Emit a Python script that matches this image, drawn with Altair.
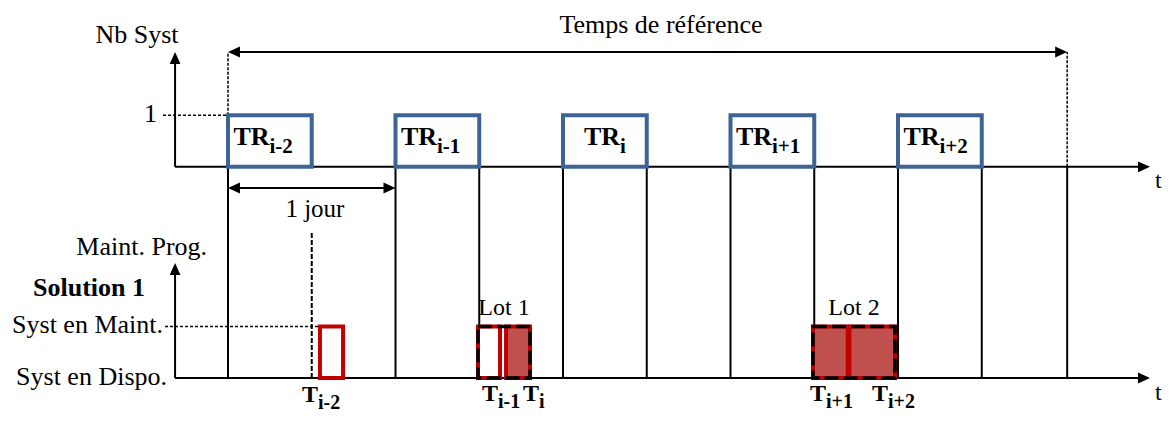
import altair as alt
import pandas as pd

# ---------------- data (time in days, level in number of systems) ----------------
tr_index = ["i-2", "i-1", "i", "i+1", "i+2"]      # reference periods TR
tr_start = [0.0, 1.0, 2.0, 3.0, 4.0]               # start of each TR (days)
tr_duration = 0.5                                  # length of a TR (days)
tr_level = 1                                       # Nb Syst during a TR
ref_start = 0.0                                    # "Temps de référence"
ref_end = 5.01

task_index = ["i-2", "i-1", "i", "i+1", "i+2"]     # planned maintenance tasks
task_start = [0.549, 1.4925, 1.66, 3.4925, 3.71]
task_end = [0.687, 1.624, 1.803, 3.70, 3.982]
task_shaded = [False, False, True, True, True]
task_level = 1

lot_names = ["Lot 1", "Lot 2"]
lot_start = [1.4925, 3.4925]
lot_end = [1.803, 3.982]

# ---------------- layout ----------------
FONT = "Liberation Serif"
BLUE = "#3E6496"
RED = "#C00000"
RED_FILL = "#C0504D"
TOP0 = 4.1            # baseline of the upper timeline (in level units)
AX_X = -0.316         # position of both vertical axes
AX_END = 5.5045       # tip of both time axes
TOP_TIP = 6.33
BOT_TIP = 2.233
DAY_Y = 3.689
X_DOM = [-1.3134, 5.594]
Y_DOM = [-0.7184, 7.1845]

xs = alt.Scale(domain=X_DOM, nice=False, zero=False)
ys = alt.Scale(domain=Y_DOM, nice=False, zero=False)


def X(f="x"):
    return alt.X(f"{f}:Q", scale=xs, axis=None)


def Y(f="y"):
    return alt.Y(f"{f}:Q", scale=ys, axis=None)


def rules(rows, **kw):
    df = pd.DataFrame(rows, columns=["x", "x2", "y", "y2"])
    return alt.Chart(df).mark_rule(color="black", **kw).encode(
        x=X("x"), x2="x2:Q", y=Y("y"), y2="y2:Q")


def texts(rows, align, size, weight="normal", dx=0, dy=0):
    df = pd.DataFrame(rows, columns=["x", "y", "text"])
    return alt.Chart(df).mark_text(
        align=align, baseline="alphabetic", font=FONT, fontSize=size,
        fontWeight=weight, dx=dx, dy=dy, color="black").encode(
        x=X(), y=Y(), text="text:N")


# axes and arrows
hx, hy = 0.03, 0.1
axis_lines = rules([
    (AX_X, AX_X, TOP0, TOP_TIP - hy),
    (AX_X, AX_END - hx, TOP0, TOP0),
    (AX_X, AX_X, 0, BOT_TIP - hy),
    (AX_X, AX_END - hx, 0, 0),
    (ref_start + hx, ref_end - hx, TOP_TIP, TOP_TIP),
    (tr_start[0] + hx, tr_start[1] - hx, DAY_Y, DAY_Y),
], strokeWidth=2)

heads_df = pd.DataFrame({
    "x": [AX_X, AX_END, AX_X, AX_END, ref_start, ref_end, tr_start[0], tr_start[1]],
    "y": [TOP_TIP, TOP0, BOT_TIP, 0, TOP_TIP, TOP_TIP, DAY_Y, DAY_Y],
    "angle": [270, 0, 270, 0, 180, 0, 180, 0],
})
heads = alt.Chart(heads_df).mark_point(
    shape="M0,0 L-2,-0.9 L-2,0.9 Z", filled=True, size=144, color="black",
    opacity=1, strokeWidth=0).encode(
    x=X(), y=Y(), angle=alt.Angle("angle:Q", scale=None))

# vertical solid lines at TR edges
edges = tr_start[1:] + [s + tr_duration for s in tr_start[1:]] + [ref_start, ref_end]
edge_lines = rules([(e, e, 0, TOP0) for e in edges], strokeWidth=2)

# dashed guide lines
ref_dashed = rules([(ref_start, ref_start, TOP0 + tr_level, TOP_TIP),
                    (ref_end, ref_end, TOP0, TOP_TIP)],
                   strokeWidth=1.5, strokeDash=[3, 1.5])
level_dashed = rules([(-0.388, ref_start, TOP0 + tr_level, TOP0 + tr_level),
                      (-0.376, task_start[0], task_level, task_level)],
                     strokeWidth=1.5, strokeDash=[3, 2])
mid_dashed = rules([(tr_start[0] + tr_duration, tr_start[0] + tr_duration, 0, 2.835)],
                   strokeWidth=2, strokeDash=[5, 2])

# TR boxes
tr_df = pd.DataFrame({
    "x": tr_start,
    "x2": [s + tr_duration for s in tr_start],
    "y": [TOP0] * len(tr_start),
    "y2": [TOP0 + tr_level] * len(tr_start),
})
tr_boxes = alt.Chart(tr_df).mark_rect(fill="white", stroke=BLUE, strokeWidth=4).encode(
    x=X(), x2="x2:Q", y=Y(), y2="y2:Q")

# maintenance boxes
task_df = pd.DataFrame({
    "x": task_start, "x2": task_end,
    "y": [0] * len(task_start), "y2": [task_level] * len(task_start),
    "fill": [RED_FILL if s else "white" for s in task_shaded],
})
task_boxes = alt.Chart(task_df).mark_rect(stroke=RED, strokeWidth=4).encode(
    x=X(), x2="x2:Q", y=Y(), y2="y2:Q", fill=alt.Fill("fill:N", scale=None))

lot_df = pd.DataFrame({"x": lot_start, "x2": lot_end,
                       "y": [0] * 2, "y2": [task_level] * 2})
lot_boxes = alt.Chart(lot_df).mark_rect(
    fill="white", fillOpacity=0, stroke="black", strokeWidth=3.5,
    strokeDash=[14, 5]).encode(x=X(), x2="x2:Q", y=Y(), y2="y2:Q")

# texts
title = texts([(2.585, 6.699, "Temps de référence")], "center", 26)
center_txt = texts([(-0.543, 6.505, "Nb Syst")], "center", 26)
day_txt = texts([(0.519, 3.126, "1 jour")], "center", 25)
lot_txt = texts([((lot_start[0] + lot_end[0]) / 2, 1.223, lot_names[0]),
                 ((lot_start[1] + lot_end[1]) / 2, 1.223, lot_names[1])],
                "center", 24)
right_txt = texts([(-0.424, 4.971, str(tr_level)),
                   (-0.125, 2.388, "Maint. Prog."),
                   (-0.388, 0.874, "Syst en Maint."),
                   (-0.364, -0.136, "Syst en Dispo.")], "right", 26)
t_txt = texts([(5.534, 3.689, "t"), (5.534, -0.427, "t")], "left", 24)
sol_txt = texts([(-1.164, 1.592, "Solution 1")], "left", 26, "bold")

tr_lab_x = [s + (0.125 if k == "i" else 0.033) for s, k in zip(tr_start, tr_index)]
tr_main = texts([(x, TOP0 + 0.424, "TR") for x in tr_lab_x], "left", 26, "bold")
tr_sub = texts([(x, TOP0 + 0.424, k) for x, k in zip(tr_lab_x, tr_index)],
               "left", 21, "bold", dx=36, dy=8)

t_lab_x = [0.4418, 1.5164, 1.761, 3.4746, 3.845]
t_lab_y = [-0.466, -0.447, -0.447, -0.447, -0.447]
t_main = texts([(x, y, "T") for x, y in zip(t_lab_x, t_lab_y)], "left", 24, "bold")
t_sub = texts([(x, y, k) for x, y, k in zip(t_lab_x, t_lab_y, task_index)],
              "left", 20, "bold", dx=16, dy=7)

chart = alt.layer(
    edge_lines, mid_dashed, ref_dashed, level_dashed, axis_lines, heads,
    tr_boxes, task_boxes, lot_boxes,
    title, center_txt, day_txt, lot_txt, right_txt, t_txt, sol_txt,
    tr_main, tr_sub, t_main, t_sub,
).properties(
    width=1157, height=407, padding=0,
    autosize=alt.AutoSizeParams(type="none"),
    background="white",
).configure_view(stroke=None)

chart.save("out.html", embed_options={"renderer": "svg", "actions": False})
